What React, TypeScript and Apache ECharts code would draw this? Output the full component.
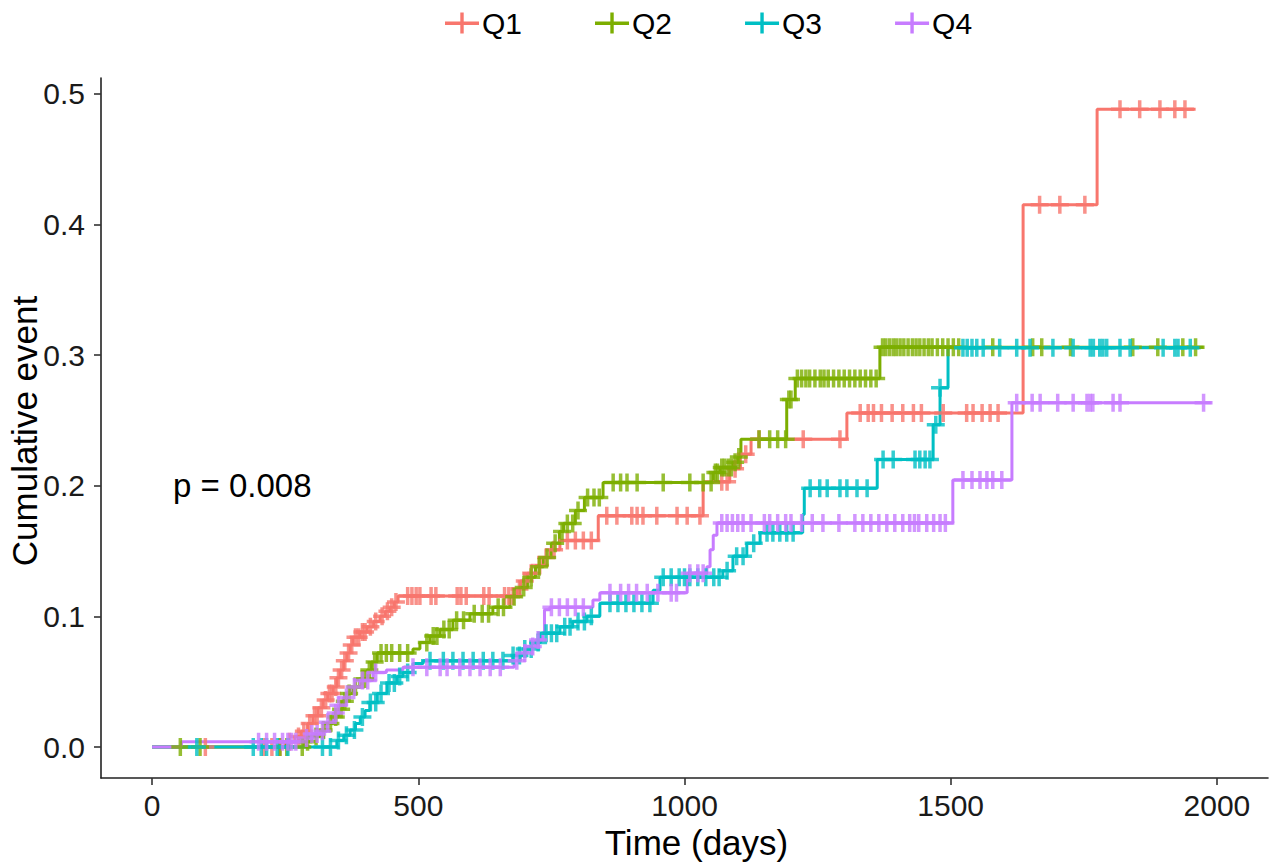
import { useEffect, useRef } from "react";
import * as echarts from "echarts";

const seriesNames = ["Q1", "Q2", "Q3", "Q4"];
const colors = ["#F8766D", "#7CAE00", "#00BFC4", "#C77CFF"];
const xTicks = [0, 500, 1000, 1500, 2000];
const yTicks = [0, 0.1, 0.2, 0.3, 0.4, 0.5];

// step functions: [time (days), cumulative event]
const q1Steps: [number, number][] = [
  [0, 0], [250, 0.004], [268, 0.008], [280, 0.012], [292, 0.018], [302, 0.024], [312, 0.03],
  [321, 0.036], [330, 0.041], [340, 0.046], [347, 0.053], [353, 0.059], [360, 0.066], [366, 0.072],
  [372, 0.078], [377, 0.084], [390, 0.088], [404, 0.092], [416, 0.096], [428, 0.1], [438, 0.104],
  [447, 0.107], [455, 0.111], [462, 0.1155], [685, 0.121], [692, 0.127], [705, 0.133], [720, 0.139],
  [734, 0.145], [748, 0.151], [766, 0.158], [838, 0.177], [1035, 0.203], [1085, 0.213], [1105, 0.224],
  [1125, 0.2355], [1305, 0.2557], [1636, 0.415], [1775, 0.488],
];
const q1End = 1960;
const q2Steps: [number, number][] = [
  [0, 0], [285, 0.004], [300, 0.008], [315, 0.013], [328, 0.018], [340, 0.023], [350, 0.029],
  [358, 0.035], [366, 0.041], [377, 0.046], [390, 0.052], [404, 0.059], [412, 0.065], [423, 0.072],
  [490, 0.075], [503, 0.08], [522, 0.085], [541, 0.09], [565, 0.097], [597, 0.102], [640, 0.107],
  [672, 0.115], [691, 0.122], [705, 0.13], [720, 0.138], [735, 0.145], [750, 0.156], [765, 0.165],
  [773, 0.171], [795, 0.181], [812, 0.191], [847, 0.2025], [1054, 0.21], [1067, 0.214], [1091, 0.218],
  [1100, 0.222], [1106, 0.2355], [1192, 0.266], [1208, 0.282], [1367, 0.306],
];
const q2End = 1975;
const q3Steps: [number, number][] = [
  [0, 0], [347, 0.005], [360, 0.009], [372, 0.013], [382, 0.018], [391, 0.023], [400, 0.028],
  [409, 0.034], [423, 0.041], [441, 0.049], [460, 0.054], [471, 0.057], [490, 0.064], [509, 0.066],
  [678, 0.07], [700, 0.075], [715, 0.08], [730, 0.087], [766, 0.092], [790, 0.096], [817, 0.1],
  [841, 0.11], [941, 0.12], [954, 0.13], [1072, 0.135], [1091, 0.146], [1117, 0.156], [1142, 0.164],
  [1222, 0.178], [1225, 0.198], [1362, 0.22], [1467, 0.2466], [1480, 0.275], [1495, 0.3055],
];
const q3End = 1970;
const q4Steps: [number, number][] = [
  [0, 0], [55, 0.004], [275, 0.007], [300, 0.01], [315, 0.012], [328, 0.019], [340, 0.026],
  [350, 0.032], [359, 0.038], [366, 0.042], [372, 0.046], [391, 0.051], [415, 0.057], [440, 0.059],
  [471, 0.061], [680, 0.066], [692, 0.072], [705, 0.077], [720, 0.082], [734, 0.087], [737, 0.105],
  [747, 0.107], [828, 0.1125], [841, 0.118], [1005, 0.133], [1042, 0.138], [1048, 0.151],
  [1054, 0.162], [1061, 0.1715], [1504, 0.2044], [1615, 0.2634],
];
const q4End = 1990;

// censoring times (days)
const q1Censor = [
  100, 210, 225, 240, 258, 275, 285, 296, 305, 310, 318, 326, 333, 338, 345, 350, 356, 362, 369, 375,
  382, 388, 395, 400, 410, 420, 432, 442, 450, 458, 480, 488, 496, 503, 524, 533, 573, 580, 590, 623,
  633, 662, 670, 678, 690, 700, 712, 728, 740, 755, 780, 795, 810, 825, 854, 873, 901, 911, 922, 948,
  986, 1005, 1029, 1070, 1080, 1095, 1115, 1140, 1223, 1292, 1330, 1345, 1355, 1370, 1390, 1410,
  1430, 1445, 1486, 1530, 1542, 1559, 1574, 1589, 1667, 1705, 1752, 1818, 1855, 1893, 1921, 1940,
];
const q2Censor = [
  53, 90, 240, 253, 282, 292, 308, 322, 335, 345, 355, 362, 370, 382, 395, 400, 408, 418, 430, 440,
  450, 465, 480, 516, 528, 535, 548, 558, 572, 585, 605, 620, 632, 650, 660, 680, 698, 712, 727, 742,
  757, 770, 780, 790, 800, 818, 830, 840, 866, 880, 892, 911, 960, 1010, 1035, 1050, 1058, 1062, 1070,
  1075, 1082, 1088, 1095, 1102, 1140, 1160, 1175, 1190, 1196, 1200, 1212, 1220, 1228, 1235, 1245,
  1255, 1262, 1270, 1280, 1290, 1300, 1310, 1320, 1330, 1340, 1350, 1360, 1372, 1378, 1385, 1392,
  1398, 1405, 1412, 1420, 1428, 1435, 1442, 1450, 1458, 1465, 1475, 1485, 1495, 1505, 1515, 1579,
  1654, 1671, 1725, 1842, 1889, 1936, 1960,
];
const q3Censor = [
  84, 190, 205, 215, 235, 255, 320, 335, 350, 365, 380, 395, 410, 420, 430, 445, 455, 465, 480, 522,
  547, 565, 584, 603, 622, 640, 659, 678, 690, 700, 712, 725, 740, 750, 760, 775, 785, 800, 812, 825,
  860, 875, 890, 905, 920, 935, 960, 975, 990, 1000, 1010, 1025, 1040, 1055, 1065, 1080, 1098, 1110,
  1130, 1155, 1166, 1179, 1192, 1204, 1236, 1254, 1268, 1292, 1305, 1324, 1343, 1373, 1392, 1433,
  1442, 1452, 1461, 1472, 1480, 1523, 1531, 1540, 1549, 1561, 1592, 1624, 1649, 1692, 1730, 1762,
  1768, 1780, 1786, 1793, 1818, 1837, 1899, 1921, 1927, 1950,
];
const q4Censor = [
  200, 215, 230, 245, 255, 262, 270, 290, 300, 310, 320, 330, 345, 350, 365, 380, 395, 405, 420, 490,
  516, 541, 554, 578, 597, 616, 635, 654, 685, 700, 715, 725, 750, 765, 780, 795, 810, 860, 880, 895,
  910, 930, 950, 975, 985, 1010, 1025, 1035, 1070, 1080, 1090, 1100, 1110, 1125, 1150, 1160, 1175,
  1190, 1200, 1220, 1240, 1260, 1290, 1320, 1335, 1350, 1365, 1380, 1395, 1410, 1423, 1432, 1440,
  1455, 1468, 1480, 1490, 1523, 1540, 1555, 1568, 1579, 1596, 1624, 1653, 1668, 1701, 1730, 1756,
  1762, 1767, 1805, 1818, 1975,
];

const pValueText = "p = 0.008";
const xTitle = "Time (days)";
const yTitle = "Cumulative event";

const allSteps = [q1Steps, q2Steps, q3Steps, q4Steps];
const allEnds = [q1End, q2End, q3End, q4End];
const allCensor = [q1Censor, q2Censor, q3Censor, q4Censor];

const FONT = "'Liberation Sans', Arial, Helvetica, sans-serif";
const plusSymbol = "path://M0,7.25h18v3.5h-18z M7.25,0h3.5v18h-3.5z";
const legendIcon = "path://M0,9h34v3.4h-34z M15.3,0h3.4v21h-3.4z";

function valueAt(steps: [number, number][], t: number) {
  let v = steps[0][1];
  for (const [s, y] of steps) {
    if (s <= t) v = y;
    else break;
  }
  return v;
}

export default function App() {
  const ref = useRef<HTMLDivElement>(null);
  useEffect(() => {
    if (!ref.current) return;
    const chart = echarts.init(ref.current, null, { renderer: "svg" });
    const lineSeries = seriesNames.map((name, i) => {
      const steps = allSteps[i];
      const data = steps.map((p) => [p[0], p[1]]);
      data.push([allEnds[i], steps[steps.length - 1][1]]);
      return {
        name,
        type: "line",
        step: "end",
        data,
        symbol: "none",
        showSymbol: false,
        silent: true,
        lineStyle: { color: colors[i], width: 3 },
        itemStyle: { color: colors[i] },
        z: 2,
      };
    });
    const censorSeries = seriesNames.map((name, i) => ({
      name,
      type: "scatter",
      data: allCensor[i].map((t) => [t, valueAt(allSteps[i], t)]),
      symbol: plusSymbol,
      symbolSize: 18,
      silent: true,
      itemStyle: { color: colors[i] },
      z: 3,
    }));
    const option = {
      animation: false,
      backgroundColor: "#ffffff",
      textStyle: { fontFamily: FONT },
      legend: {
        data: seriesNames.map((n) => ({ name: n, icon: legendIcon })),
        top: 3,
        left: 440,
        itemWidth: 34,
        itemHeight: 21,
        itemGap: 73,
        textStyle: { fontSize: 30, color: "#000", fontFamily: FONT, padding: [0, 0, 0, -2] },
        selectedMode: false,
      },
      grid: {
        left: 101,
        top: 78,
        width: 1167,
        height: 700,
        containLabel: false,
        outerBoundsMode: "none",
      },
      xAxis: {
        type: "value",
        min: -96,
        max: 2096,
        name: xTitle,
        nameLocation: "middle",
        nameGap: 47,
        nameTextStyle: { fontSize: 35, color: "#000", fontFamily: FONT, padding: [0, 0, 0, 24] },
        axisLine: { show: true, onZero: false, lineStyle: { color: "#222", width: 1.6 } },
        axisTick: { show: true, customValues: xTicks, length: 7, lineStyle: { color: "#333", width: 1.6 } },
        axisLabel: {
          customValues: xTicks,
          fontSize: 30,
          color: "#1a1a1a",
          margin: 12,
          fontFamily: FONT,
          formatter: (v: number) => String(v),
        },
        splitLine: { show: false },
      },
      yAxis: {
        type: "value",
        min: -0.0237,
        max: 0.512,
        axisLine: { show: true, onZero: false, lineStyle: { color: "#222", width: 1.6 } },
        axisTick: { show: true, customValues: yTicks, length: 7, lineStyle: { color: "#333", width: 1.6 } },
        axisLabel: {
          customValues: yTicks,
          fontSize: 30,
          color: "#1a1a1a",
          margin: 16,
          fontFamily: FONT,
          formatter: (v: number) => v.toFixed(1),
        },
        splitLine: { show: false },
      },
      graphic: [
        {
          type: "text",
          left: 173,
          top: 469,
          style: { text: pValueText, fontSize: 33, fill: "#000", fontFamily: FONT },
        },
        {
          type: "text",
          x: 24,
          y: 431,
          rotation: Math.PI / 2,
          style: {
            text: yTitle,
            fontSize: 35,
            fill: "#000",
            fontFamily: FONT,
            align: "center",
            verticalAlign: "middle",
          },
        },
      ],
      series: [...lineSeries, ...censorSeries],
    };
    chart.setOption(option as any);
    return () => chart.dispose();
  }, []);
  return (
    <div
      ref={ref}
      style={{ position: "absolute", left: 0, top: 0, width: 1271, height: 866, background: "#fff" }}
    />
  );
}
